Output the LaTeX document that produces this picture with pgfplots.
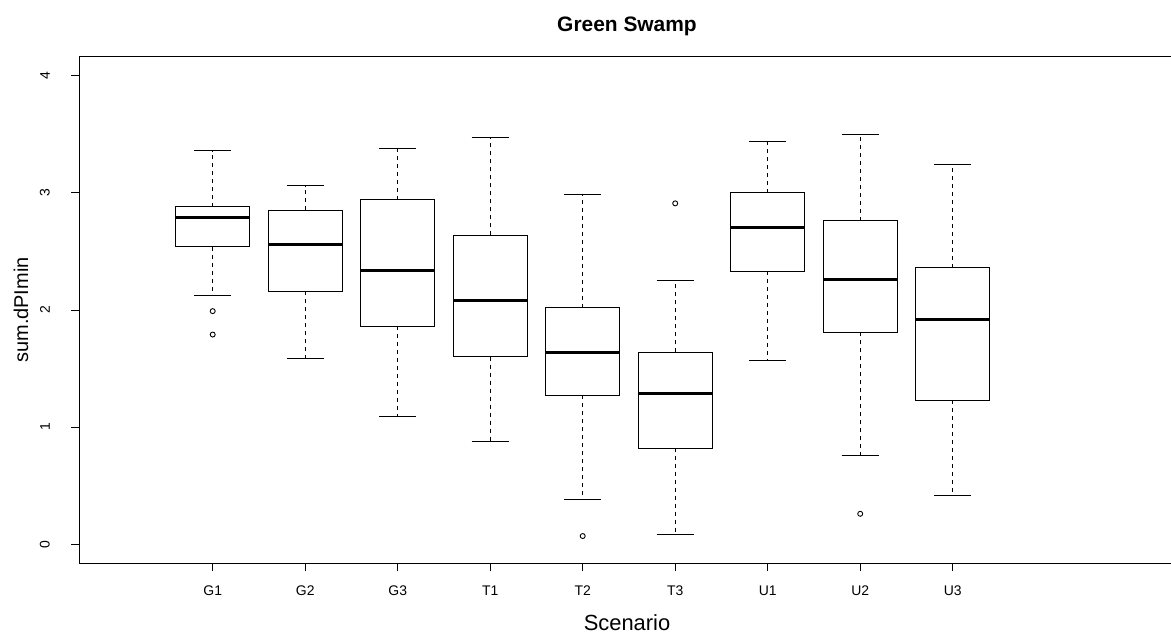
\documentclass[border=0pt]{standalone}
\usepackage{pgfplots}
\pgfplotsset{compat=1.18}
\usepgfplotslibrary{statistics}
\usepackage{fontspec}
\setmainfont{Liberation Sans}
\pgfplotsset{
  boxplot/draw direction=y,
  boxplot/box extend=0.8,
  boxplot/every box/.style={draw=black, line width=0.9bp},
  boxplot/every median/.style={draw=black, line width=3bp},
  boxplot/draw/lower whisker/.code={%
    \draw[black, line width=0.9bp, dash pattern=on 4bp off 4bp]
      (boxplot box cs:\pgfplotsboxplotvalue{lower quartile},0.5) --
      (boxplot box cs:\pgfplotsboxplotvalue{lower whisker},0.5);
    \draw[black, line width=0.9bp]
      (boxplot box cs:\pgfplotsboxplotvalue{lower whisker},0.25) --
      (boxplot box cs:\pgfplotsboxplotvalue{lower whisker},0.75);
  },
  boxplot/draw/upper whisker/.code={%
    \draw[black, line width=0.9bp, dash pattern=on 4bp off 4bp]
      (boxplot box cs:\pgfplotsboxplotvalue{upper quartile},0.5) --
      (boxplot box cs:\pgfplotsboxplotvalue{upper whisker},0.5);
    \draw[black, line width=0.9bp]
      (boxplot box cs:\pgfplotsboxplotvalue{upper whisker},0.25) --
      (boxplot box cs:\pgfplotsboxplotvalue{upper whisker},0.75);
  },
}
\begin{document}
\begin{tikzpicture}
\useasboundingbox (0bp,0bp) rectangle (1171bp,635bp);
\begin{axis}[
  at={(79bp,72bp)}, anchor=south west,
  scale only axis, width=1096bp, height=506.3bp,
  xmin=-0.4454, xmax=11.403, ymin=-0.16, ymax=4.162,
  axis line style={black, line width=0.9bp},
  xtick={1,2,3,4,5,6,7,8,9},
  xticklabels={G1,G2,G3,T1,T2,T3,U1,U2,U3},
  ytick={0,1,2,3,4},
  tick align=outside, xtick pos=left, ytick pos=left,
  major tick length=8bp,
  tick style={black, line width=0.9bp},
  /pgf/number format/assume math mode=true,
  xticklabel style={font=\fontsize{14}{16}\selectfont, inner sep=0pt, anchor=north},
  yticklabel style={font=\fontsize{14}{16}\selectfont, inner sep=0pt, rotate=90, anchor=south},
  xticklabel shift=15bp,
  yticklabel shift=21bp,
  clip=false,
]
\addplot[black, mark=o, mark size=2.5bp, mark options={solid, line width=0.9bp},
  boxplot prepared={draw position=1, lower whisker=2.12, lower quartile=2.54,
  median=2.79, upper quartile=2.88, upper whisker=3.36}]
  coordinates {(0,1.99) (0,1.79)};
\addplot[black,
  boxplot prepared={draw position=2, lower whisker=1.59, lower quartile=2.16,
  median=2.56, upper quartile=2.85, upper whisker=3.06}]
  coordinates {};
\addplot[black,
  boxplot prepared={draw position=3, lower whisker=1.09, lower quartile=1.86,
  median=2.34, upper quartile=2.94, upper whisker=3.38}]
  coordinates {};
\addplot[black,
  boxplot prepared={draw position=4, lower whisker=0.88, lower quartile=1.60,
  median=2.08, upper quartile=2.64, upper whisker=3.47}]
  coordinates {};
\addplot[black, mark=o, mark size=2.5bp, mark options={solid, line width=0.9bp},
  boxplot prepared={draw position=5, lower whisker=0.38, lower quartile=1.27,
  median=1.64, upper quartile=2.02, upper whisker=2.99}]
  coordinates {(0,0.07)};
\addplot[black, mark=o, mark size=2.5bp, mark options={solid, line width=0.9bp},
  boxplot prepared={draw position=6, lower whisker=0.08, lower quartile=0.82,
  median=1.29, upper quartile=1.64, upper whisker=2.25}]
  coordinates {(0,2.91)};
\addplot[black,
  boxplot prepared={draw position=7, lower whisker=1.57, lower quartile=2.33,
  median=2.70, upper quartile=3.00, upper whisker=3.44}]
  coordinates {};
\addplot[black, mark=o, mark size=2.5bp, mark options={solid, line width=0.9bp},
  boxplot prepared={draw position=8, lower whisker=0.76, lower quartile=1.81,
  median=2.26, upper quartile=2.76, upper whisker=3.50}]
  coordinates {(0,0.26)};
\addplot[black,
  boxplot prepared={draw position=9, lower whisker=0.42, lower quartile=1.23,
  median=1.92, upper quartile=2.36, upper whisker=3.24}]
  coordinates {};
\end{axis}
\node[anchor=base, font=\fontsize{21}{24}\selectfont\bfseries] at (627bp,603.3bp) {Green Swamp};
\node[anchor=base, font=\fontsize{22}{26}\selectfont] at (627bp,5bp) {Scenario};
\node[anchor=base, rotate=90, font=\fontsize{20}{24}\selectfont] at (28bp,325bp) {sum.dPImin};
\end{tikzpicture}
\end{document}
